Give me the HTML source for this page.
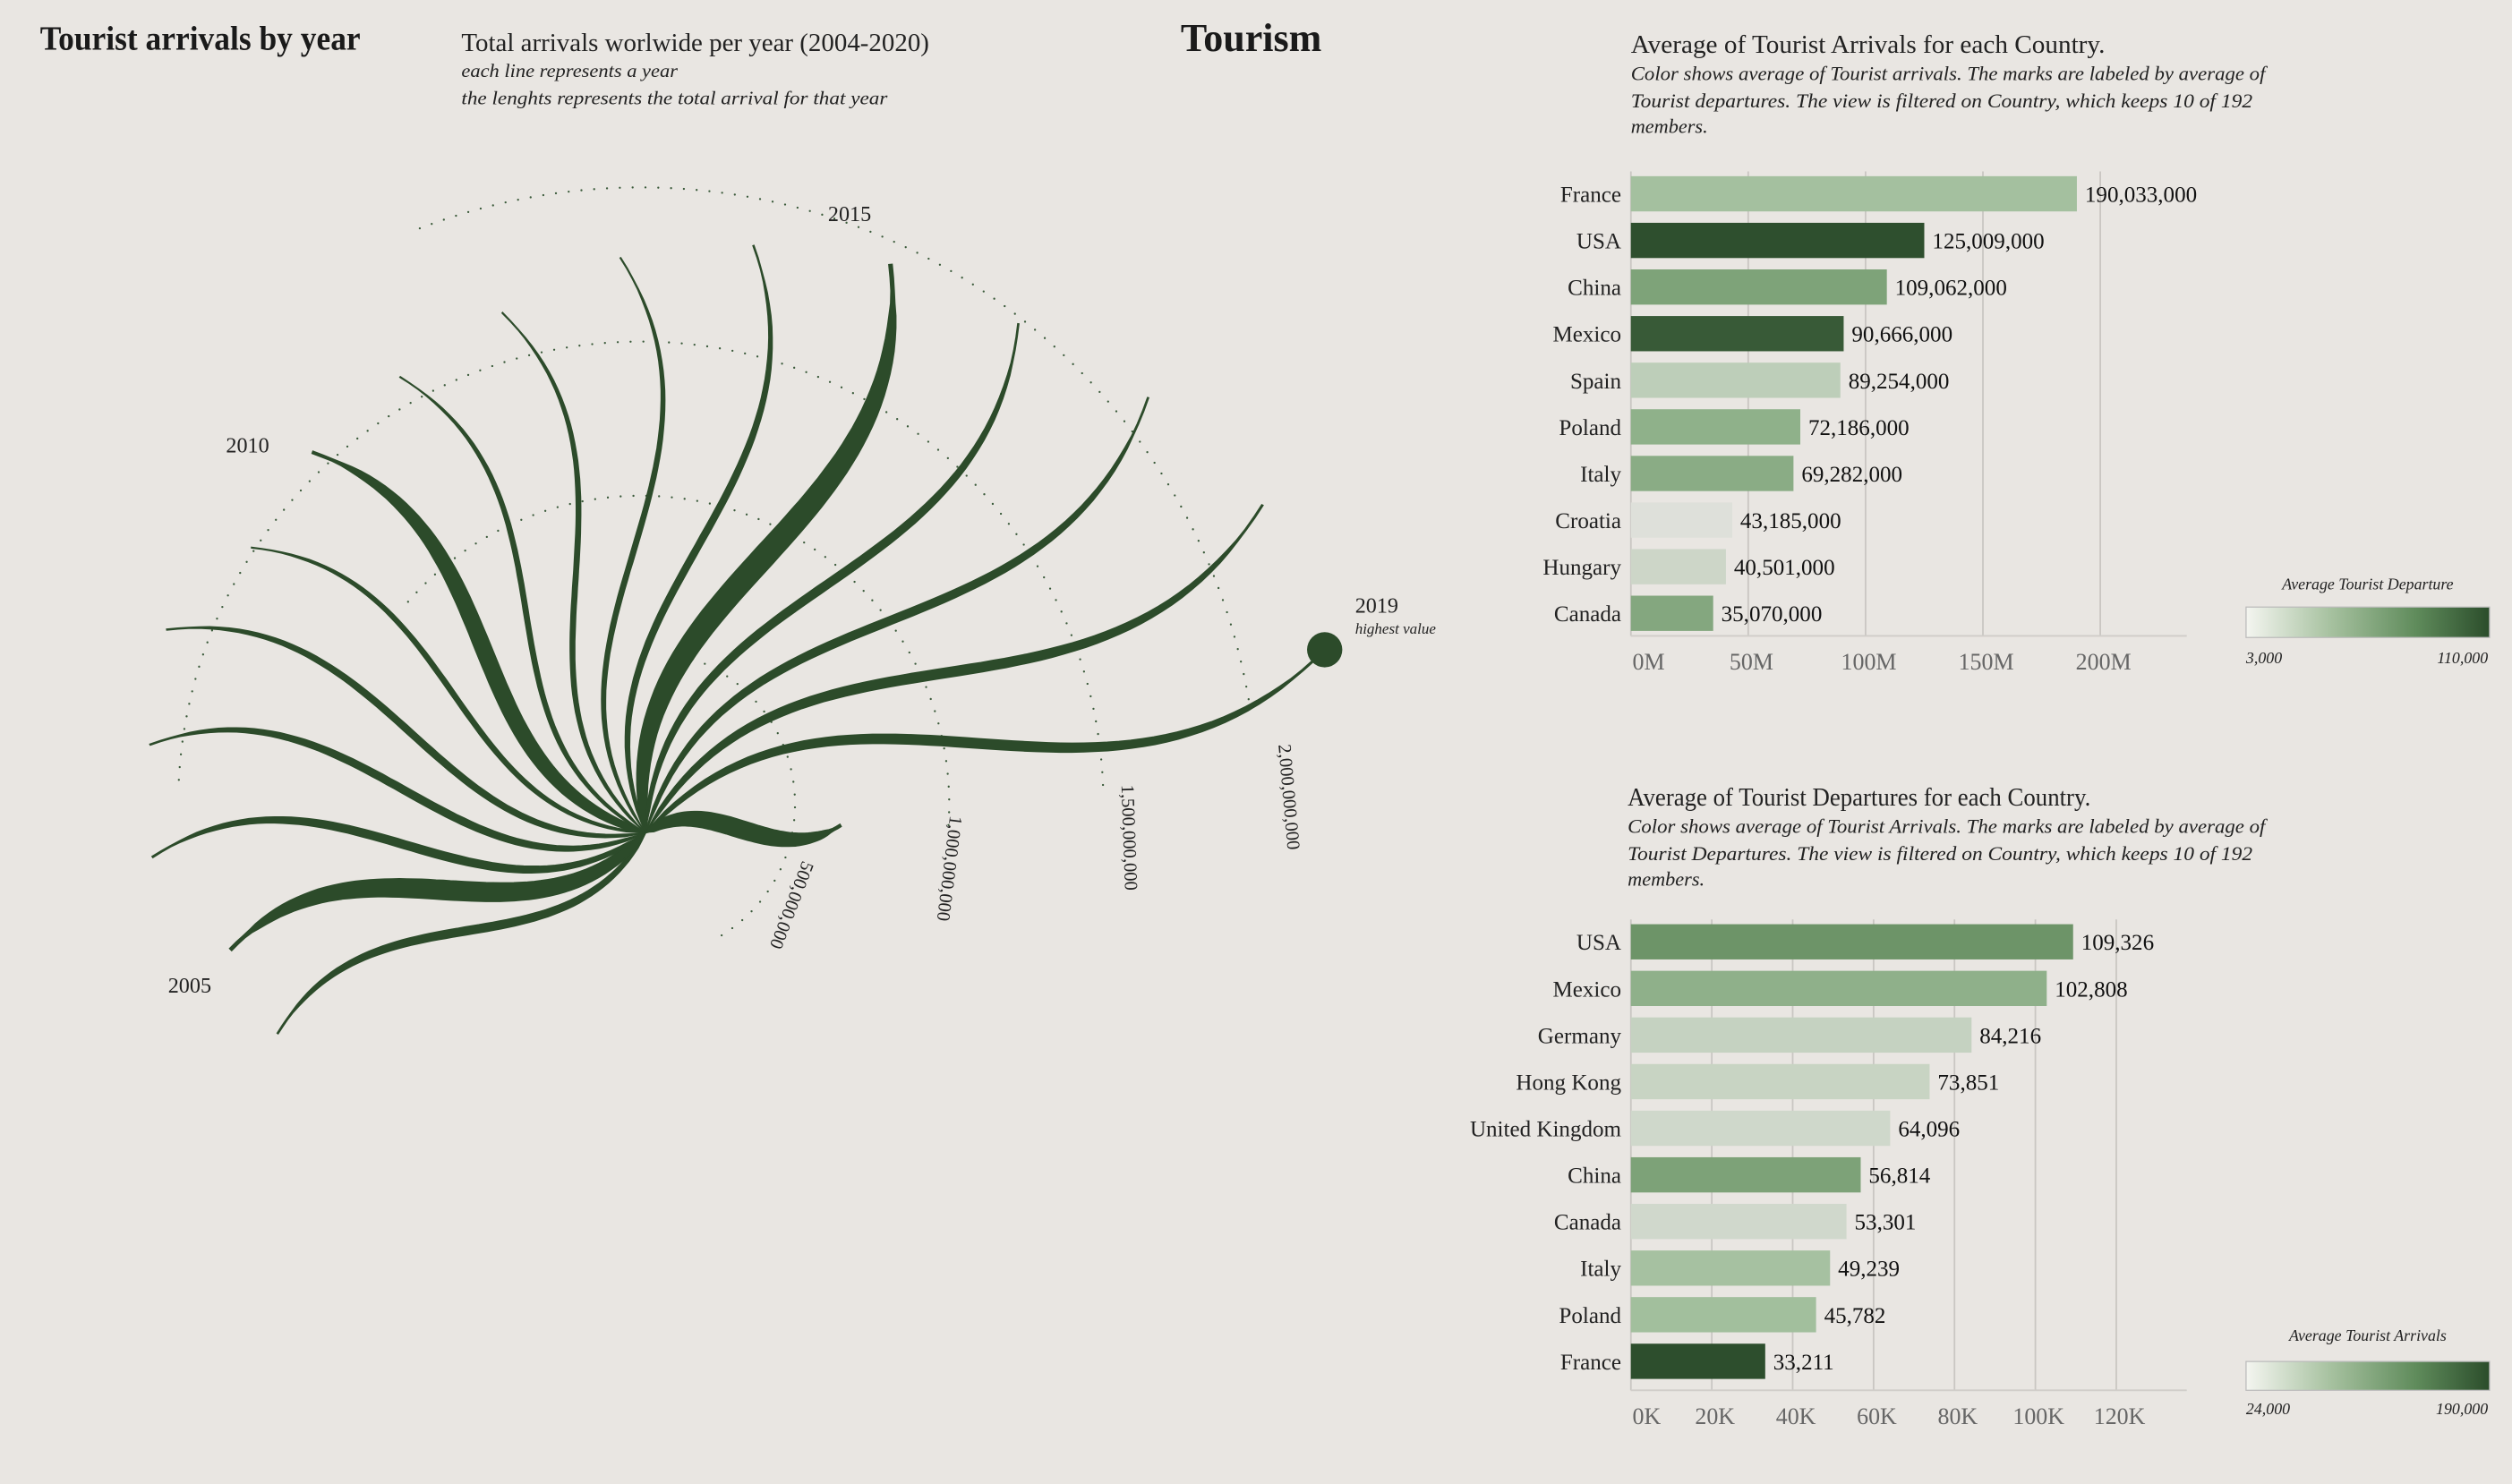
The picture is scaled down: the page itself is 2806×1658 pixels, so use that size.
<!DOCTYPE html>
<html><head><meta charset="utf-8"><style>
html,body{margin:0;padding:0;background:#e9e6e2;}
svg{display:block;font-family:"Liberation Serif",serif;}
</style></head><body>
<svg id="root" width="2806" height="1658" viewBox="0 0 1568 926.5" preserveAspectRatio="none" xmlns="http://www.w3.org/2000/svg">
<rect x="0" y="0" width="1568" height="927" fill="#e9e6e2"/>
<defs>
<linearGradient id="lg" x1="0" x2="1" y1="0" y2="0"><stop offset="0" stop-color="#f4f5f0"/><stop offset="0.35" stop-color="#a6c19f"/><stop offset="0.7" stop-color="#5f8b5b"/><stop offset="1" stop-color="#2b4d2b"/></linearGradient>
</defs>
<text x="25" y="31" font-size="21" font-weight="bold" textLength="200" lengthAdjust="spacingAndGlyphs" fill="#1a1a1a">Tourist arrivals by year</text>
<text x="737" y="32" font-size="25" font-weight="bold" textLength="88" lengthAdjust="spacingAndGlyphs" fill="#1a1a1a">Tourism</text>
<text x="288" y="32" font-size="16" textLength="292" lengthAdjust="spacingAndGlyphs" fill="#222">Total arrivals worlwide per year (2004-2020)</text>
<text x="288" y="48" font-size="12" font-style="italic" textLength="135" lengthAdjust="spacingAndGlyphs" fill="#222">each line represents a year</text>
<text x="288" y="65" font-size="12" font-style="italic" textLength="266" lengthAdjust="spacingAndGlyphs" fill="#222">the lenghts represents the total arrival for that year</text>

<g id="fan"></g>

<text x="1018" y="33" font-size="16" textLength="296" lengthAdjust="spacingAndGlyphs" fill="#222">Average of Tourist Arrivals for each Country.</text>
<text x="1018" y="50" font-size="12.5" font-style="italic" textLength="396" lengthAdjust="spacingAndGlyphs" fill="#222">Color shows average of Tourist arrivals. The marks are labeled by average of</text>
<text x="1018" y="67" font-size="12.5" font-style="italic" textLength="388" lengthAdjust="spacingAndGlyphs" fill="#222">Tourist departures. The view is filtered on Country, which keeps 10 of 192</text>
<text x="1018" y="83" font-size="12.5" font-style="italic" textLength="48" lengthAdjust="spacingAndGlyphs" fill="#222">members.</text>

<text x="1016" y="503" font-size="16" textLength="289" lengthAdjust="spacingAndGlyphs" fill="#222">Average of Tourist Departures for each Country.</text>
<text x="1016" y="520" font-size="12.5" font-style="italic" textLength="398" lengthAdjust="spacingAndGlyphs" fill="#222">Color shows average of Tourist Arrivals. The marks are labeled by average of</text>
<text x="1016" y="537" font-size="12.5" font-style="italic" textLength="390" lengthAdjust="spacingAndGlyphs" fill="#222">Tourist Departures. The view is filtered on Country, which keeps 10 of 192</text>
<text x="1016" y="553" font-size="12.5" font-style="italic" textLength="48" lengthAdjust="spacingAndGlyphs" fill="#222">members.</text>

<g id="bars1"></g>
<g id="bars2"></g>

<g>
<text x="1478" y="368" font-size="10" font-style="italic" text-anchor="middle" fill="#222">Average Tourist Departure</text>
<rect x="1402" y="379" width="152" height="19" fill="url(#lg)" stroke="#bbb" stroke-width="0.7"/>
<text x="1402" y="414" font-size="10" font-style="italic" fill="#222">3,000</text>
<text x="1553" y="414" font-size="10" font-style="italic" text-anchor="end" fill="#222">110,000</text>
</g>
<g>
<text x="1478" y="837" font-size="10" font-style="italic" text-anchor="middle" fill="#222">Average Tourist Arrivals</text>
<rect x="1402" y="850" width="152" height="18" fill="url(#lg)" stroke="#bbb" stroke-width="0.7"/>
<text x="1402" y="883" font-size="10" font-style="italic" fill="#222">24,000</text>
<text x="1553" y="883" font-size="10" font-style="italic" text-anchor="end" fill="#222">190,000</text>
</g>
</svg>
<script>
// ---------- Fan chart data ----------
const fanYears = [2004,2005,2006,2007,2008,2009,2010,2011,2012,2013,2014,2015,2016,2017,2018,2019,2020];
const fanArrivalsM = [870,895,1025,1045,1080,1010,1050,1075,1120,1195,1240,1285,1310,1380,1450,1460,405];
const fanWeights = [5,12,5,4.5,4,3,10,3,3,3,4,14,5,5,6,6,11];
const arcValuesM = [500,1000,1500,2000];
const arcLabels = ["500,000,000","1,000,000,000","1,500,000,000","2,000,000,000"];
const labeledYears = [2005,2010,2015,2019];

// ---------- Bar chart data ----------
const arrCountries = ["France","USA","China","Mexico","Spain","Poland","Italy","Croatia","Hungary","Canada"];
const arrValues = [190033000,125009000,109062000,90666000,89254000,72186000,69282000,43185000,40501000,35070000];
const arrColorVals = [33211,109326,56814,102808,20000,45782,49239,3000,12000,53301];
const arrTicks = [0,50,100,150,200];
const arrTickLabels = ["0M","50M","100M","150M","200M"];
const depCountries = ["USA","Mexico","Germany","Hong Kong","United Kingdom","China","Canada","Italy","Poland","France"];
const depValues = [109326,102808,84216,73851,64096,56814,53301,49239,45782,33211];
const depColorVals = [125009,90666,44000,42000,36000,109062,35070,69282,72186,190033];
const depTicks = [0,20,40,60,80,100,120];
const depTickLabels = ["0K","20K","40K","60K","80K","100K","120K"];

const NS="http://www.w3.org/2000/svg";
function mk(tag,attrs,parent){const e=document.createElementNS(NS,tag);for(const k in attrs)e.setAttribute(k,attrs[k]);parent.appendChild(e);return e;}

// ---------- Fan ----------
const fan=document.getElementById('fan');
const cx=403, cy=520;
const rScale=v=>v*0.3007;
const aScale=i=>(151.4+i*12.9)*Math.PI/180;
const arcR=v=>v*0.1925;
const arcCx=400, arcCy=502;
const arcStart=[-75,-139,-177,-111], arcEnd=[62,5,-2,-9];
arcValuesM.forEach((v,i)=>{
  const r=arcR(v);const a0=arcStart[i]*Math.PI/180,a1=arcEnd[i]*Math.PI/180;
  const x0=arcCx+r*Math.cos(a0),y0=arcCy+r*Math.sin(a0),x1=arcCx+r*Math.cos(a1),y1=arcCy+r*Math.sin(a1);
  const large=(arcEnd[i]-arcStart[i])>180?1:0;
  const p=mk('path',{d:`M${x0},${y0} A${r},${r} 0 ${large} 1 ${x1},${y1}`,fill:'none',stroke:'#3a5a3a','stroke-width':1.3,'stroke-dasharray':'0 8','stroke-linecap':'round'},fan);
  
  
});
const lblPos=[[501,537,111],[593,509,97],[700,490,88],[798,465,85]];
arcLabels.forEach((t,i)=>{
  const [x,y,rot]=lblPos[i];
  const e=mk('text',{x:x,y:y,'font-size':11.5,fill:'#222',transform:`rotate(${rot} ${x} ${y})`},fan);
  e.textContent=t;
  
  
});
function bez(p0,p1,p2,p3,t){const u=1-t;return u*u*u*p0+3*u*u*t*p1+3*u*t*t*p2+t*t*t*p3;}
fanYears.forEach((yr,i)=>{
  const L=rScale(fanArrivalsM[i]);const a=aScale(i);
  const dx=Math.cos(a),dy=Math.sin(a),nx=-dy,ny=dx;
  const loc=[[0,0],[0.35*L,-0.22*L],[0.62*L,0.22*L],[L,0]];
  const pts=loc.map(([u,v])=>[cx+u*dx+v*nx,cy+u*dy+v*ny]);
  const N=60,left=[],right=[];
  for(let k=0;k<=N;k++){
    const t=k/N;
    const x=bez(pts[0][0],pts[1][0],pts[2][0],pts[3][0],t),y=bez(pts[0][1],pts[1][1],pts[2][1],pts[3][1],t);
    const t2=Math.min(1,t+0.001),t1=Math.max(0,t-0.001);
    const tx=bez(pts[0][0],pts[1][0],pts[2][0],pts[3][0],t2)-bez(pts[0][0],pts[1][0],pts[2][0],pts[3][0],t1);
    const ty=bez(pts[0][1],pts[1][1],pts[2][1],pts[3][1],t2)-bez(pts[0][1],pts[1][1],pts[2][1],pts[3][1],t1);
    const m=Math.hypot(tx,ty)||1;const px=-ty/m,py=tx/m;
    const w=fanWeights[i]*0.5*(0.15+0.85*Math.pow(Math.sin(Math.PI*Math.min(1,t*1.05)),0.6))*(t<0.03?t/0.03:1);
    left.push([x+px*w,y+py*w]);right.push([x-px*w,y-py*w]);
  }
  const d='M'+left.map(p=>p[0].toFixed(1)+','+p[1].toFixed(1)).join(' L')+' L'+right.reverse().map(p=>p[0].toFixed(1)+','+p[1].toFixed(1)).join(' L')+'Z';
  const e=mk('path',{d:d,fill:'#2c4b2a',stroke:'#2c4b2a','stroke-width':0.8},fan);
  
  
  const ex=pts[3][0],ey=pts[3][1];
  if(yr===2019){
    const c=mk('circle',{cx:ex,cy:ey,r:11,fill:'#2c4b2a'},fan);
    
    
    const t=mk('text',{x:ex+19,y:ey-23,'font-size':13.5,fill:'#222'},fan);t.textContent='2019';
    
    
    const t2=mk('text',{x:ex+19,y:ey-10,'font-size':9.5,'font-style':'italic',fill:'#222'},fan);t2.textContent='highest value';
    
    
  } else if(labeledYears.includes(yr)){
    const off={2005:[-39,27],2010:[-54,0],2015:[-39,-27]}[yr];
    const t=mk('text',{x:ex+off[0],y:ey+off[1],'font-size':13.5,fill:'#222'},fan);t.textContent=String(yr);
    
    
  }
});

// ---------- Bars ----------
function colorFor(v,min,max){
  const t=Math.max(0,Math.min(1,(v-min)/(max-min)));
  const stops=[[0,[222,224,218]],[0.3,[160,190,155]],[0.6,[110,150,105]],[1,[45,78,45]]];
  for(let k=1;k<stops.length;k++){if(t<=stops[k][0]){const a=stops[k-1],b=stops[k];const f=(t-a[0])/(b[0]-a[0]);return 'rgb('+a[1].map((c,j)=>Math.round(c+(b[1][j]-c)*f)).join(',')+')';}}
  return 'rgb(45,78,45)';
}
function barChart(g,cats,vals,cvals,cmin,cmax,ticks,tickLabels,unit,fmt,y0,axisY){
  const x0=1018, pxPer=unit;
  const xs=v=>x0+v*pxPer;
  const ys=i=>y0+i*29.1;
  ticks.forEach((t,i)=>{
    const l=mk('line',{x1:xs(t),x2:xs(t),y1:y0-14,y2:axisY,stroke:'#c9c6c2','stroke-width':1},g);
    
    
    const tx=mk('text',{x:i===0?xs(t)+1:xs(t)+2,y:axisY+21,'font-size':14.5,fill:'#666','text-anchor':i===0?'start':'middle'},g);tx.textContent=tickLabels[i];
    
    
  });
  const ax=mk('line',{x1:x0,x2:1365,y1:axisY,y2:axisY,stroke:'#d0cdc9','stroke-width':1},g);
  
  
  cats.forEach((c,i)=>{
    const v=vals[i];const bv=fmt.scale(v);
    const r=mk('rect',{x:x0,y:ys(i)-11,width:xs(bv)-x0,height:22,fill:colorFor(cvals[i],cmin,cmax)},g);
    
    
    const lb=mk('text',{x:1012,y:ys(i)+5,'font-size':14,'text-anchor':'end',fill:'#222'},g);lb.textContent=c;
    
    
    const vl=mk('text',{x:xs(bv)+5,y:ys(i)+5,'font-size':14,fill:'#111'},g);vl.textContent=v.toLocaleString('en-US');
    
    
  });
}
barChart(document.getElementById('bars1'),arrCountries,arrValues,arrColorVals,3000,110000,arrTicks,arrTickLabels,1.465,{scale:v=>v/1e6},121,397);
barChart(document.getElementById('bars2'),depCountries,depValues,depColorVals,24000,190000,depTicks,depTickLabels,2.525,{scale:v=>v/1e3},588,868);
</script>
</body></html>
